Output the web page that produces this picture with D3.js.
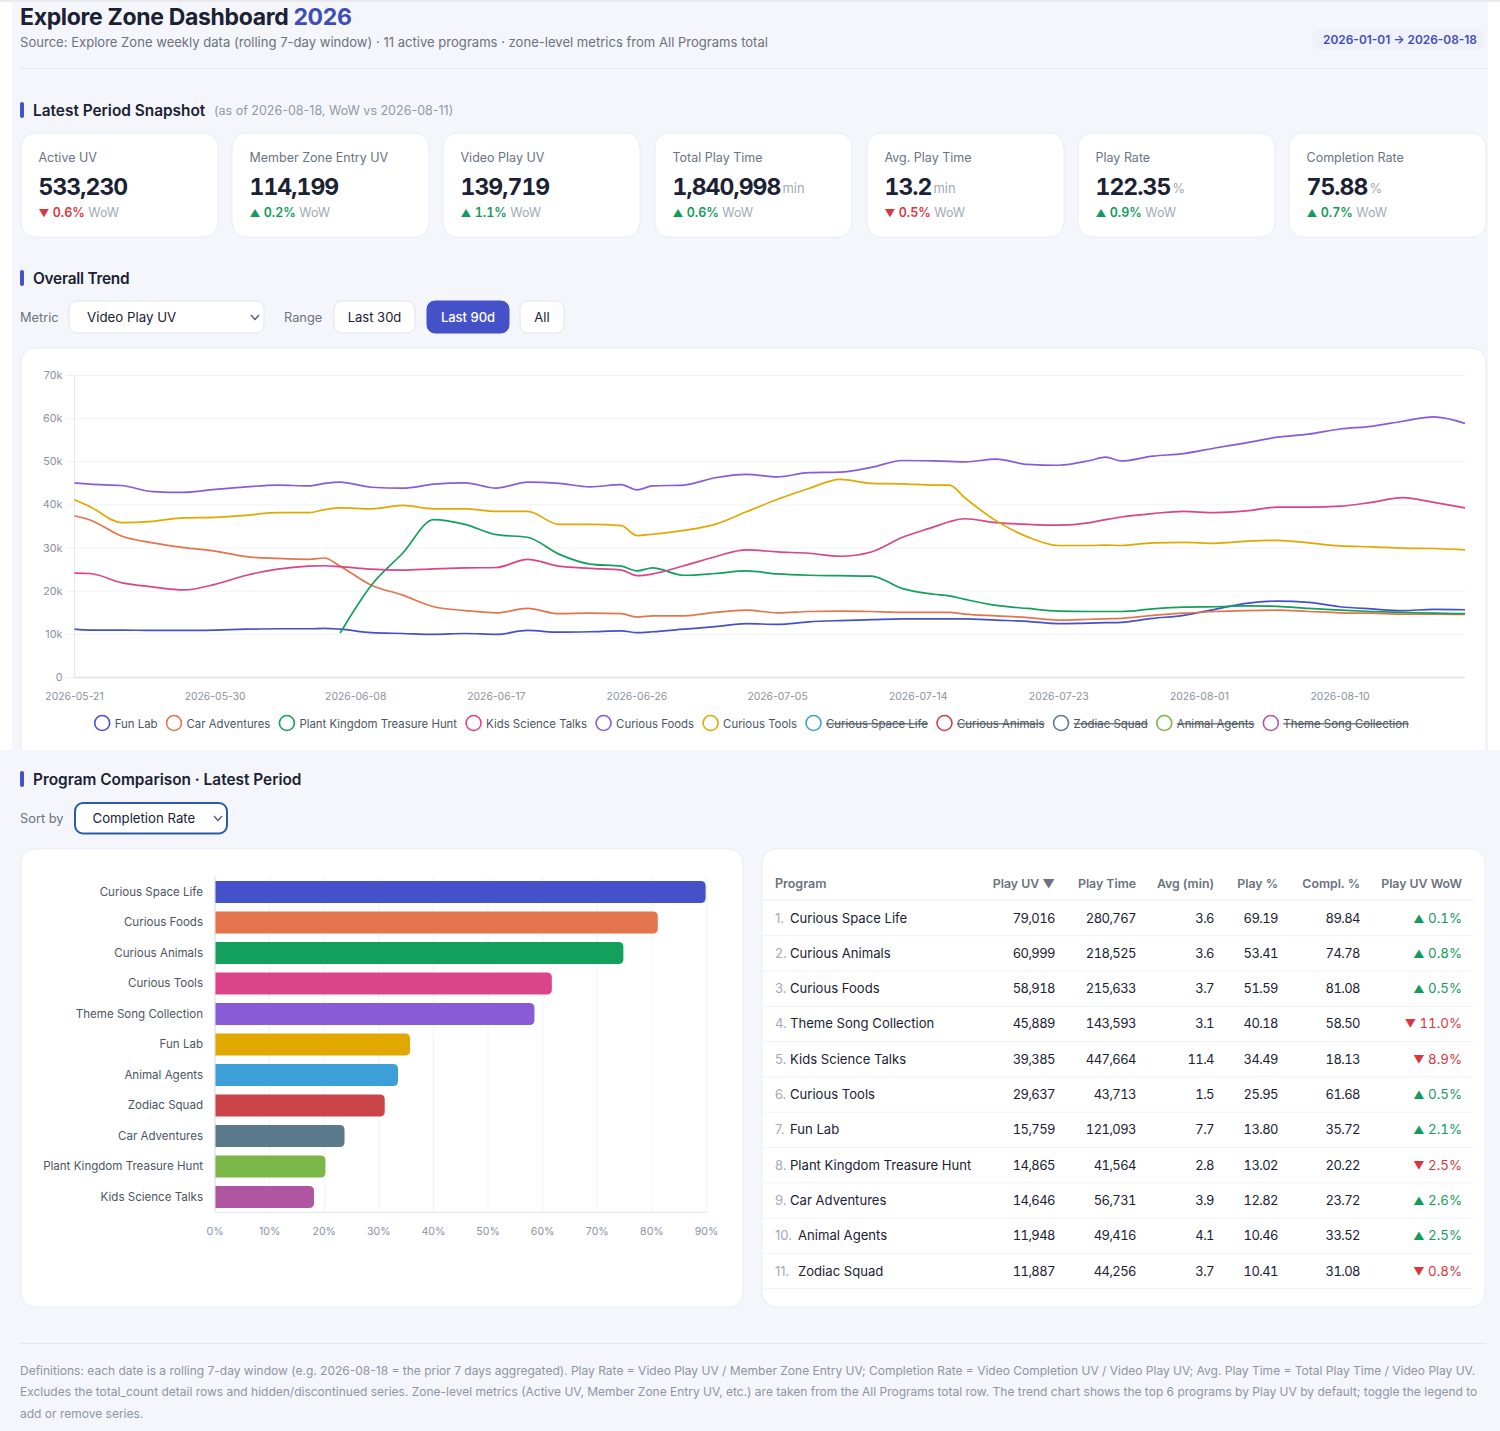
<!DOCTYPE html>
<html lang="en">
<head>
<meta charset="UTF-8">
<title>Explore Zone Dashboard 2026</title>
<script src="https://d3js.org/d3.v7.min.js"></script>
<style>
  html, body { margin: 0; padding: 0; background: #fff; }
  svg { display: block; }
  text { font-family: Inter, "Liberation Sans", sans-serif; }
</style>
</head>
<body>
<div id="page"></div>
<script>
// ---- trend data (Video Play UV, thousands)
const dates = ["05-21","05-22","05-24","05-26","05-28","05-30","06-01","06-03","06-05","06-06","06-07","06-09","06-11","06-13","06-15","06-17","06-19","06-21","06-23","06-25","06-26","06-27","06-29","07-01","07-03","07-05","07-07","07-09","07-11","07-13","07-15","07-16","07-17","07-19","07-21","07-23","07-25","07-26","07-27","07-29","07-31","08-02","08-04","08-06","08-08","08-10","08-12","08-14","08-16","08-18"];
const dateTicks = ["05-21","05-30","06-08","06-17","06-26","07-05","07-14","07-23","08-01","08-10"];
const valueTicks = [0, 10, 20, 30, 40, 50, 60, 70];

const funLab = [11.2,11.0,11.0,10.9,10.9,11.0,11.2,11.3,11.3,11.4,11.2,10.4,10.2,10.0,10.2,10.0,10.9,10.5,10.6,10.8,10.4,10.6,11.2,11.8,12.5,12.3,12.9,13.2,13.4,13.6,13.6,13.6,13.6,13.3,13.0,12.5,12.6,12.7,12.8,13.7,14.4,15.8,17.2,17.7,17.4,16.4,15.9,15.5,15.8,15.7];
const carAdventures = [37.5,36.5,32.8,31.2,30.1,29.3,28.0,27.6,27.4,27.7,25.8,21.4,19.1,16.4,15.5,15.0,16.0,14.8,14.9,14.8,14.0,14.3,14.3,15.1,15.6,15.0,15.3,15.4,15.3,15.1,15.1,15.1,14.7,14.3,13.9,13.3,13.5,13.6,13.7,14.4,14.9,15.3,15.5,15.6,15.3,15.0,14.9,14.7,14.7,14.6];
const plantKingdom = [null,null,null,null,null,null,null,null,null,null,10.3,21.4,28.8,36.6,35.5,33.1,32.5,28.6,26.3,25.8,24.7,25.4,23.7,24.1,24.7,24.0,23.7,23.6,23.5,20.6,19.3,18.9,18.1,16.7,16.0,15.4,15.3,15.3,15.3,15.9,16.3,16.4,16.6,16.5,16.0,15.6,15.3,15.1,14.9,14.8];
const kidsScience = [24.2,24.1,22.0,21.0,20.3,21.6,23.7,25.1,25.8,25.9,25.7,25.1,24.9,25.2,25.4,25.5,27.4,25.8,25.3,24.9,23.6,24.0,25.9,28.0,29.6,29.1,28.8,28.1,29.1,32.5,34.9,36.1,36.8,35.9,35.5,35.3,35.9,36.6,37.2,38.0,38.5,38.2,38.6,39.5,39.5,39.7,40.6,41.7,40.6,39.3];
const curiousFoods = [45.1,44.8,44.5,43.1,42.9,43.6,44.2,44.6,44.4,45.0,45.3,44.1,43.9,44.8,45.1,43.9,45.3,45.0,44.2,44.7,43.5,44.4,44.6,46.3,47.1,46.5,47.5,47.6,48.7,50.3,50.2,50.1,50.0,50.6,49.4,49.2,50.3,51.1,50.2,51.3,51.9,53.2,54.4,55.7,56.4,57.6,58.2,59.4,60.4,58.9];
const curiousTools = [41.2,39.6,35.9,36.2,37.0,37.1,37.6,38.2,38.2,38.9,39.3,39.1,39.9,39.1,39.1,38.5,38.5,35.5,35.5,35.2,32.9,33.2,34.1,35.5,38.4,41.3,43.8,45.9,45.0,44.9,44.6,44.6,41.6,36.3,32.6,30.6,30.6,30.7,30.6,31.2,31.3,31.1,31.6,31.8,31.2,30.5,30.3,30.0,29.9,29.6];

const legendNames = ["Fun Lab","Car Adventures","Plant Kingdom Treasure Hunt","Kids Science Talks","Curious Foods","Curious Tools","Curious Space Life","Curious Animals","Zodiac Squad","Animal Agents","Theme Song Collection"];
const legendHidden = [false,false,false,false,false,false,true,true,true,true,true];
const trendSeries = [funLab, carAdventures, plantKingdom, kidsScience, curiousFoods, curiousTools];
const palette = ["#4451c9","#e4744c","#12a05c","#db4488","#8a5bd6","#e0a800","#3d9fd8","#c94348","#5a7a8c","#7ab648","#b0559f"];

// ---- snapshot cards
const kpiLabels = ["Active UV","Member Zone Entry UV","Video Play UV","Total Play Time","Avg. Play Time","Play Rate","Completion Rate"];
const kpiValues = ["533,230","114,199","139,719","1,840,998","13.2","122.35","75.88"];
const kpiUnits = ["","","","min","min","%","%"];
const kpiDeltas = ["0.6%","0.2%","1.1%","0.6%","0.5%","0.9%","0.7%"];
const kpiUp = [false,true,true,true,false,true,true];

// ---- completion rate bars
const barPrograms = ["Curious Space Life","Curious Foods","Curious Animals","Curious Tools","Theme Song Collection","Fun Lab","Animal Agents","Zodiac Squad","Car Adventures","Plant Kingdom Treasure Hunt","Kids Science Talks"];
const barValues = [89.84,81.08,74.78,61.68,58.50,35.72,33.52,31.08,23.72,20.22,18.13];
const barTicks = [0,10,20,30,40,50,60,70,80,90];

// ---- table
const tablePrograms = ["Curious Space Life","Curious Animals","Curious Foods","Theme Song Collection","Kids Science Talks","Curious Tools","Fun Lab","Plant Kingdom Treasure Hunt","Car Adventures","Animal Agents","Zodiac Squad"];
const tablePlayUV = ["79,016","60,999","58,918","45,889","39,385","29,637","15,759","14,865","14,646","11,948","11,887"];
const tablePlayTime = ["280,767","218,525","215,633","143,593","447,664","43,713","121,093","41,564","56,731","49,416","44,256"];
const tableAvg = ["3.6","3.6","3.7","3.1","11.4","1.5","7.7","2.8","3.9","4.1","3.7"];
const tablePlayPct = ["69.19","53.41","51.59","40.18","34.49","25.95","13.80","13.02","12.82","10.46","10.41"];
const tableCompl = ["89.84","74.78","81.08","58.50","18.13","61.68","35.72","20.22","23.72","33.52","31.08"];
const tableWow = ["0.1%","0.8%","0.5%","11.0%","8.9%","0.5%","2.1%","2.5%","2.6%","2.5%","0.8%"];
const tableWowUp = [true,true,true,false,false,true,true,false,true,true,false];

const footnotes = [
  "Definitions: each date is a rolling 7-day window (e.g. 2026-08-18 = the prior 7 days aggregated). Play Rate = Video Play UV / Member Zone Entry UV; Completion Rate = Video Completion UV / Video Play UV; Avg. Play Time = Total Play Time / Video Play UV.",
  "Excludes the total_count detail rows and hidden/discontinued series. Zone-level metrics (Active UV, Member Zone Entry UV, etc.) are taken from the All Programs total row. The trend chart shows the top 6 programs by Play UV by default; toggle the legend to",
  "add or remove series."
];

const ACCENT = "#4451c9", INK = "#1a2233", GREY = "#6b7280", MUTED = "#a3a9b5", UP = "#149a5a", DOWN = "#d9363e";
const BG = "#f4f6fb", BORDER = "#e9ecf3", AXIS_TEXT = "#8b919e";

const svg = d3.select("#page").append("svg").attr("width", 1500).attr("height", 1431);

function txt(g, x, y, str, size, fill, weight, anchor) {
  return g.append("text").attr("x", x).attr("y", y).text(str)
    .attr("font-size", size).attr("fill", fill)
    .attr("font-weight", weight || 400).attr("text-anchor", anchor || "start");
}
// delta text: small triangle glyph, then the figure
function delta(g, x, y, up, str, size, weight, anchor) {
  const t = g.append("text").attr("x", x).attr("y", y)
    .attr("font-size", size).attr("fill", up ? UP : DOWN)
    .attr("font-weight", weight).attr("text-anchor", anchor || "start")
    .style("font-variant-numeric", "tabular-nums");
  t.append("tspan").attr("font-size", size * 0.84).text(up ? "▲" : "▼");
  t.append("tspan").text(" " + str);
  return t;
}
function card(g, x0, y0, x1, y1) {
  g.append("rect").attr("x", x0).attr("y", y0).attr("width", x1 - x0).attr("height", y1 - y0)
    .attr("rx", 14).attr("fill", "#fff").attr("stroke", BORDER).attr("stroke-width", 1);
}
function sectionHead(g, y, title) {
  g.append("rect").attr("x", 20).attr("y", y - 8).attr("width", 4).attr("height", 16).attr("rx", 2).attr("fill", ACCENT);
  return txt(g, 33, y + 5.5, title, 15.4, INK, 600);
}
function control(g, x0, y0, x1, y1, active) {
  g.append("rect").attr("x", x0).attr("y", y0).attr("width", x1 - x0).attr("height", y1 - y0).attr("rx", 8)
    .attr("fill", active ? ACCENT : "#fff").attr("stroke", active ? ACCENT : "#e1e4eb").attr("stroke-width", 1);
}
function chevron(g, cx, cy) {
  g.append("path").attr("d", `M${cx - 4},${cy - 2}L${cx},${cy + 2.5}L${cx + 4},${cy - 2}`)
    .attr("fill", "none").attr("stroke", "#4b5563").attr("stroke-width", 1.2);
}
function styleTicks(axis, size, fill) {
  axis.selectAll("text").attr("font-size", size).attr("fill", fill).style("font-family", "Inter");
}

// page background: top part has white side strips
svg.append("rect").attr("x", 12).attr("y", 0).attr("width", 1476).attr("height", 760).attr("fill", BG);
svg.append("rect").attr("x", 0).attr("y", 0).attr("width", 1500).attr("height", 2).attr("fill", "#e9eaee");

// ---- header
const head = svg.append("g");
const title = txt(head, 20, 24.5, "Explore Zone Dashboard ", 23, INK, 700).attr("letter-spacing", -0.33);
title.append("tspan").text("2026").attr("fill", "#3f4db8");
txt(head, 20, 47, "Source: Explore Zone weekly data (rolling 7-day window) · 11 active programs · zone-level metrics from All Programs total", 13.07, GREY);
head.append("rect").attr("x", 1312).attr("y", 29).attr("width", 174).attr("height", 21).attr("rx", 10).attr("fill", "#eef0fa");
txt(head, 1400, 44, "2026-01-01 → 2026-08-18", 11.9, "#3f4db8", 600, "middle");
head.append("rect").attr("x", 20).attr("y", 68).attr("width", 1466).attr("height", 1).attr("fill", "#e3e6ec");

// ---- snapshot
const snap = svg.append("g");
sectionHead(snap, 110, "Latest Period Snapshot");
txt(snap, 214, 115, "(as of 2026-08-18, WoW vs 2026-08-11)", 12.5, "#9299a6");
const cardLeft = [21,232,443,655,867,1078,1289];
kpiLabels.forEach((label, i) => {
  const x = cardLeft[i], g = snap.append("g");
  card(g, x, 133, x + 197, 237);
  txt(g, x + 17.5, 162, label, 12.5, GREY);
  const v = txt(g, x + 17.5, 194.5, kpiValues[i], 23, INK, 700)
    .attr("letter-spacing", -0.95).style("font-variant-numeric", "tabular-nums");
  if (kpiUnits[i]) txt(g, x + 17.5 + v.node().getComputedTextLength() + 2, 193, kpiUnits[i], 13, MUTED);
  const d = delta(g, x + 17.5, 216.5, kpiUp[i], kpiDeltas[i], 12.5, 600);
  txt(g, x + 17.5 + d.node().getComputedTextLength() + 3.5, 216.5, "WoW", 12.5, MUTED);
});

// ---- trend controls
const ctl = svg.append("g");
sectionHead(ctl, 278, "Overall Trend").attr("letter-spacing", -0.25);
txt(ctl, 20, 322, "Metric", 12.8, GREY);
control(ctl, 69, 301, 264, 333);
txt(ctl, 87, 322, "Video Play UV", 13.3, INK);
chevron(ctl, 255, 317);
txt(ctl, 284, 322, "Range", 12.8, GREY);
control(ctl, 334, 301, 415, 333);
txt(ctl, 374.5, 322, "Last 30d", 13, INK, 400, "middle");
control(ctl, 427, 301, 509, 333, true);
txt(ctl, 468, 322, "Last 90d", 13, "#fff", 500, "middle");
control(ctl, 520, 301, 564, 333);
txt(ctl, 542, 322, "All", 13, INK, 400, "middle");

// ---- trend chart
const trend = svg.append("g");
card(trend, 21, 348, 1486, 770);
const parseDay = d3.utcParse("%Y-%m-%d");
const toDate = s => parseDay("2026-" + s);
const x = d3.scaleUtc().domain([toDate(dates[0]), toDate(dates[dates.length - 1])]).range([74.5, 1465]);
const y = d3.scaleLinear().domain([0, 70]).range([677.5, 375.5]);

const yAxis = trend.append("g").attr("transform", "translate(74.5,0)")
  .call(d3.axisLeft(y).offset(0).tickValues(valueTicks).tickSize(8).tickPadding(4).tickFormat(v => v === 0 ? "0" : v + "k"));
yAxis.select(".domain").attr("stroke", "#e3e6ee");
yAxis.selectAll(".tick line").attr("stroke", "#eef0f5");
yAxis.selectAll(".tick").append("line").attr("x1", 0).attr("x2", 1390.5).attr("stroke", "#f0f2f6");
styleTicks(yAxis, 10.8, AXIS_TEXT);

const xAxis = trend.append("g").attr("transform", "translate(0,677.5)")
  .call(d3.axisBottom(x).offset(0).tickValues(dateTicks.map(toDate)).tickSize(0).tickPadding(15).tickFormat(d3.utcFormat("%Y-%m-%d")));
xAxis.select(".domain").attr("stroke", "#dfe2e8").attr("stroke-width", 1.5);
styleTicks(xAxis, 10.4, AXIS_TEXT);

const line = d3.line()
  .defined(d => d.v !== null)
  .x(d => x(toDate(d.date)))
  .y(d => y(d.v))
  .curve(d3.curveMonotoneX);
trendSeries.forEach((vals, i) => {
  trend.append("path")
    .datum(vals.map((v, j) => ({ date: dates[j], v })))
    .attr("fill", "none").attr("stroke", palette[i]).attr("stroke-width", 1.7)
    .attr("stroke-linejoin", "round").attr("d", line);
});

// legend: laid out from measured text widths, centred on the card
const legend = trend.append("g");
const items = legendNames.map((name, i) => {
  const t = txt(legend, 0, 727.5, name, 11.4, "#4b5563");
  if (legendHidden[i]) t.attr("text-decoration", "line-through");
  return { t, w: t.node().getComputedTextLength(), i };
});
const legendWidth = d3.sum(items, d => 20.5 + d.w) + 8.5 * (items.length - 1);
let lx = 751.5 - legendWidth / 2;
items.forEach(d => {
  legend.append("circle").attr("cx", lx + 8).attr("cy", 723).attr("r", 7.5)
    .attr("fill", "#fff").attr("stroke", palette[d.i]).attr("stroke-width", 1.6);
  d.t.attr("x", lx + 20.5);
  lx += 20.5 + d.w + 8.5;
});

// lower section sits on a full-width background
const low = svg.append("g");
low.append("rect").attr("x", 0).attr("y", 750).attr("width", 1500).attr("height", 681).attr("fill", BG);
sectionHead(low, 779, "Program Comparison · Latest Period");
txt(low, 20, 823, "Sort by", 12.8, GREY);
low.append("rect").attr("x", 75).attr("y", 803).attr("width", 152).attr("height", 30.5).attr("rx", 8)
  .attr("fill", "#fff").attr("stroke", "#2a5bb0").attr("stroke-width", 2);
txt(low, 92.5, 823, "Completion Rate", 13.2, INK);
chevron(low, 218, 818);

// ---- bars
card(low, 21, 849, 743, 1307);
const bx = d3.scaleLinear().domain([0, 90]).range([215, 706.5]);
const by = d3.scaleBand().domain(barPrograms).range([876.75, 1212.25]).paddingInner(0.28).paddingOuter(0.14);
const bAxis = low.append("g").attr("transform", "translate(0,1212.25)")
  .call(d3.axisBottom(bx).offset(0).tickValues(barTicks).tickSize(-335.5).tickPadding(15).tickFormat(v => v + "%"));
bAxis.select(".domain").attr("stroke", "#dfe2e8");
bAxis.selectAll(".tick line").attr("stroke", "#f0f2f6");
styleTicks(bAxis, 10.6, AXIS_TEXT);

low.append("g").selectAll("path").data(barPrograms).join("path")
  .attr("fill", (d, i) => palette[i])
  .attr("d", (d, i) => {
    const x0 = bx(0), x1 = bx(barValues[i]), y0 = by(d), y1 = y0 + by.bandwidth(), r = 5;
    return `M${x0},${y0}H${x1 - r}Q${x1},${y0} ${x1},${y0 + r}V${y1 - r}Q${x1},${y1} ${x1 - r},${y1}H${x0}Z`;
  });
const bLabels = low.append("g").attr("transform", "translate(215,0)")
  .call(d3.axisLeft(by).offset(0).tickSize(0).tickPadding(12));
bLabels.select(".domain").attr("stroke", "#e3e6ee");
styleTicks(bLabels, 11.55, "#4b5563");

// ---- table
card(low, 762, 849, 1485, 1307);
const colRight = [1055, 1136, 1214, 1278, 1360, 1462];
const colHeads = ["Play UV ▼", "Play Time", "Avg (min)", "Play %", "Compl. %", "Play UV WoW"];
const colData = [tablePlayUV, tablePlayTime, tableAvg, tablePlayPct, tableCompl];
txt(low, 775, 887.5, "Program", 12.5, GREY, 600);
colHeads.forEach((h, i) => txt(low, colRight[i], 887.5, h, 12.3, GREY, 600, "end"));
low.append("rect").attr("x", 763).attr("y", 899.5).attr("width", 710).attr("height", 1.5).attr("fill", "#f0f2f6");
tablePrograms.forEach((name, i) => {
  const base = 922.5 + i * 35.3;
  txt(low, 775, base, (i + 1) + ".", 13, MUTED);
  txt(low, i < 9 ? 790 : 798, base, name, 13.1, INK);
  colData.forEach((col, c) => txt(low, colRight[c], base, col[i], 13, INK, 400, "end")
    .attr("letter-spacing", -0.55).style("font-variant-numeric", "tabular-nums"));
  delta(low, colRight[5], base, tableWowUp[i], tableWow[i], 13.3, 400, "end");
  low.append("rect").attr("x", 763).attr("y", base + 12.7).attr("width", 710).attr("height", 1).attr("fill", "#f0f2f6");
});

// ---- footer
low.append("rect").attr("x", 20).attr("y", 1343).attr("width", 1466).attr("height", 1).attr("fill", "#e3e6ec");
footnotes.forEach((note, i) => txt(low, 20, 1374.5 + i * 21.8, note, 12, "#8f95a3"));
</script>
</body>
</html>
